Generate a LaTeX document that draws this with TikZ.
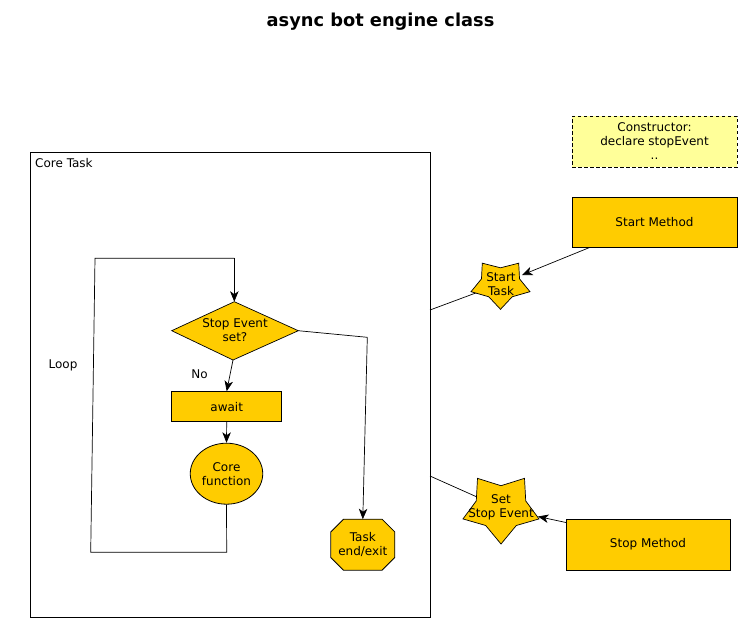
\documentclass[tikz,border=0pt]{standalone}
\usepackage{fontspec}
\setmainfont{DejaVu Sans}
\usetikzlibrary{shapes.misc,shapes.geometric,arrows.meta,calc}
\definecolor{gold}{HTML}{FFCC00}
\definecolor{paleyellow}{HTML}{FFFF99}
\begin{document}
\begin{tikzpicture}[x=1pt,y=-1pt,
  txt/.style={font=\fontsize{12}{14}\selectfont, align=center, inner sep=0pt},
  boxy/.style={draw=black, fill=gold, line width=0.8pt, minimum width=165pt, minimum height=50pt, txt},
  conn/.style={draw=black, line width=0.7pt},
  arr/.style={conn, -{Stealth[length=10.5pt,width=8.5pt,inset=3pt]}},
  starsh/.style={draw=black, fill=gold, line width=0.7pt}
]
\useasboundingbox (0,0) rectangle (747,635);

% title
\node[font=\fontsize{17.8}{20}\bfseries\selectfont, inner sep=0pt] (title) at (380.5,22) {async bot engine class};

% core task container
\node[draw=black, line width=0.8pt, minimum width=400pt, minimum height=465pt, inner sep=0pt] (core) at (230,384.5) {};
\node[txt, anchor=west] (coretitle) at (35,163) {Core Task};

% constructor
\node[draw=black, dash pattern=on 3.5pt off 2.5pt, fill=paleyellow, line width=0.7pt, minimum width=165pt, minimum height=51pt, txt] (ctor) at (654.5,141.5) {Constructor:\\declare stopEvent\\..};

% start / stop methods
\node[boxy] (startm) at (654.5,222) {Start Method};
\node[boxy, minimum width=164pt, minimum height=51pt] (stopm) at (648,544.5) {Stop Method};

% coordinates on container edge
\coordinate (coreS) at (430,310);
\coordinate (coreE) at (430,476);

% Start Task star (inverted, squashed)
\coordinate (stc) at (500.5,283.8);
\draw[conn] (coreS) -- (stc);
\def\rx{31}\def\ry{25.5}\def\ix{20}\def\iy{16}
\draw[starsh] ($(stc)+(0,\ry)$)
  \foreach \k in {0,...,4} {
    -- ($(stc)+({\ix*cos(-54+72*\k)},{-\iy*sin(-54+72*\k)})$)
    -- ($(stc)+({\rx*cos(-18+72*\k)},{-\ry*sin(-18+72*\k)})$)
  } -- cycle;
\node[txt] (starttask) at (501,284) {Start\\Task};
\coordinate (sttip) at (522,275);
\draw[arr] ($(startm.south west)!0.11!(startm.south east)$) -- (sttip);

% Set Stop Event star
\coordinate (ssc) at (501,507.7);
\draw[conn] (coreE) -- (ssc);
\def\rxb{40}\def\ryb{36.3}\def\ixb{26}\def\iyb{22}
\draw[starsh] ($(ssc)+(0,\ryb)$)
  \foreach \k in {0,...,4} {
    -- ($(ssc)+({\ixb*cos(-54+72*\k)},{-\iyb*sin(-54+72*\k)})$)
    -- ($(ssc)+({\rxb*cos(-18+72*\k)},{-\ryb*sin(-18+72*\k)})$)
  } -- cycle;
\node[txt] (setstop) at (501,507) {Set\\Stop Event};
\coordinate (sstip) at (538,516.5);
\coordinate (stopsrc) at (566,522.5);
\draw[arr] (stopsrc) -- (sstip);

% inner flowchart
\coordinate (dtop) at (234.3,301.7);
\coordinate (dbot) at (233,360);
\coordinate (dright) at (298.3,330.7);
\coordinate (dleft) at (171.7,330.7);
\draw[starsh] (dtop) -- (dright) -- (dbot) -- (dleft) -- cycle;
\node[txt] (decide) at (235,330) {Stop Event\\set?};

\node[draw=black, fill=gold, line width=0.8pt, minimum width=110pt, minimum height=30pt, txt] (await) at (226.7,406.7) {await};
\node[draw=black, fill=gold, line width=0.8pt, ellipse, minimum width=72.5pt, minimum height=61pt, inner sep=0pt, txt] (corefn) at (226.5,473.7) {Core\\function};

% octagon Task end/exit
\coordinate (oc) at (362.8,544.7);
\def\ow{32}\def\oh{25.5}\def\oc{12.7}
\draw[starsh, line width=0.8pt] ($(oc)+(-\ow+\oc,-\oh)$) -- ($(oc)+(\ow-\oc,-\oh)$) -- ($(oc)+(\ow,-\oh+\oc)$) -- ($(oc)+(\ow,\oh-\oc)$) -- ($(oc)+(\ow-\oc,\oh)$) -- ($(oc)+(-\ow+\oc,\oh)$) -- ($(oc)+(-\ow,\oh-\oc)$) -- ($(oc)+(-\ow,-\oh+\oc)$) -- cycle;
\node[txt] (taskend) at (oc) {Task\\end/exit};
\coordinate (octop) at (362.8,519.2);

\draw[arr] (dbot) -- (await.north);
\draw[arr] (await.south) -- (corefn.north);
\coordinate (lp1) at (226.7,552.3);
\coordinate (lp2) at (90.7,552.3);
\coordinate (lp3) at (95,258.3);
\coordinate (lp4) at (234.3,258.3);
\draw[conn] (corefn.south) -- (lp1) -- (lp2) -- (lp3) -- (lp4);
\draw[arr] (lp4) -- (dtop);
\coordinate (rc) at (367.3,337.3);
\draw[conn] (dright) -- (rc);
\draw[arr] (rc) -- (octop);

\node[txt] (nolbl) at (199.5,374.5) {No};
\node[txt] (looplbl) at (63,365) {Loop};
\end{tikzpicture}
\end{document}
